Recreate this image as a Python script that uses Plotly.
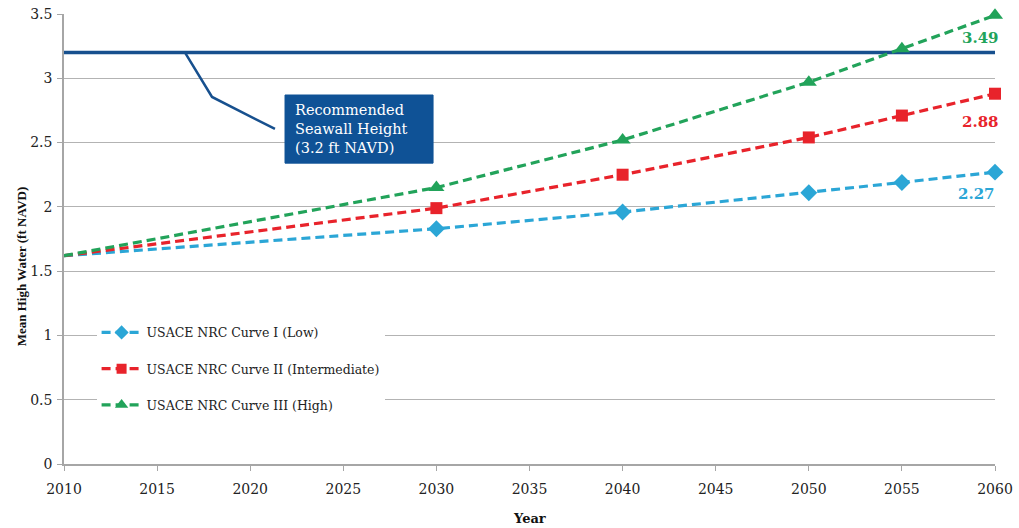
import plotly.graph_objects as go

# Projected mean high water (ft NAVD) under three USACE NRC sea-level curves
years = [2010, 2030, 2040, 2050, 2055, 2060]
curve_low = [1.62, 1.83, 1.96, 2.11, 2.19, 2.27]
curve_mid = [1.62, 1.99, 2.25, 2.54, 2.71, 2.88]
curve_high = [1.62, 2.15, 2.52, 2.97, 3.23, 3.49]

seawall_years = [2010, 2060]
seawall_height = 3.2

series_names = [
    "USACE NRC Curve I (Low)",
    "USACE NRC Curve II (Intermediate)",
    "USACE NRC Curve III (High)",
]

C_LOW = "#2ba6d6"
C_MID = "#e8232b"
C_HIGH = "#22a35a"
C_NAVY = "#17508e"
FONT = "DejaVu Serif"
TITLE_FONT = "Liberation Serif, serif"

fig = go.Figure()

# Recommended seawall height
fig.add_trace(go.Scatter(
    x=seawall_years, y=[seawall_height] * len(seawall_years),
    mode="lines", line=dict(color=C_NAVY, width=3.5),
    showlegend=False, hoverinfo="skip",
))

for name, vals, color, symbol, msize, grp in [
    (series_names[0], curve_low, C_LOW, "diamond", 13, "a"),
    (series_names[1], curve_mid, C_MID, "square", 12, "b"),
    (series_names[2], curve_high, C_HIGH, "triangle-up", 14, "c"),
]:
    # no marker on the shared 2010 starting point
    sizes = [0 if yr == years[0] else msize for yr in years]
    fig.add_trace(go.Scatter(
        x=years, y=vals, name=name, legendgroup=grp,
        mode="lines+markers",
        line=dict(color=color, width=3.2, dash="9px,5px"),
        marker=dict(symbol=symbol, size=sizes, color=color, opacity=1,
                    line=dict(width=0)),
        cliponaxis=False,
    ))

# End-of-period value labels
for vals, color, dx, dy in [
    (curve_high, C_HIGH, -15, -23),
    (curve_mid, C_MID, -15, -28),
    (curve_low, C_LOW, -19, -22),
]:
    fig.add_annotation(
        x=years[-1], y=vals[-1], text=f"<b>{vals[-1]:.2f}</b>",
        showarrow=False, xshift=dx, yshift=dy,
        font=dict(family=FONT, size=15, color=color),
    )

# Callout leader and box
fig.add_shape(
    type="path",
    path="M 2016.5 3.2 L 2017.95 2.855 L 2021.33 2.606",
    line=dict(color=C_NAVY, width=2.5),
)
fig.add_shape(
    type="rect", x0=2021.87, x1=2029.82, y0=2.34, y1=2.87,
    fillcolor="#0f5296", line=dict(color="#0f5296", width=1), layer="above",
)
fig.add_annotation(
    x=2022.3, y=2.605, xanchor="left", yanchor="middle", align="left",
    text="Recommended<br>Seawall Height<br>(3.2 ft NAVD)",
    showarrow=False,
    font=dict(family=FONT, size=14.5, color="white"),
)

# Axis titles
fig.add_annotation(
    x=-0.056, y=0.44, xref="paper", yref="paper", textangle=-90,
    text="<b>Mean High Water (ft NAVD)</b>", showarrow=False,
    font=dict(family=TITLE_FONT, size=13, color="#111"),
)
fig.add_annotation(
    x=0.5, y=-0.12, xref="paper", yref="paper", yanchor="middle",
    text="<b>Year</b>", showarrow=False,
    font=dict(family=FONT, size=13, color="#111"),
)

fig.update_layout(
    width=1019, height=528,
    margin=dict(l=64, r=24, t=14, b=64, autoexpand=False),
    paper_bgcolor="white", plot_bgcolor="white",
    font=dict(family=FONT, size=13, color="#222"),
    legend=dict(
        x=0.035, y=0.325, xanchor="left", yanchor="top",
        bgcolor="white", traceorder="grouped", tracegroupgap=17,
        font=dict(family=FONT, size=12.5, color="#222"),
        itemwidth=40,
    ),
    xaxis=dict(
        range=[2010, 2060], tickvals=list(range(2010, 2061, 5)),
        showgrid=False, showline=True, linecolor="#a6a6a6", linewidth=1.5,
        ticks="outside", ticklen=5, tickcolor="#a6a6a6",
        tickfont=dict(family=FONT, size=14, color="#222"),
        ticklabelstandoff=6, automargin=False, ticklabeloverflow="allow",
        zeroline=False, fixedrange=True,
    ),
    yaxis=dict(
        range=[0, 3.5], tickvals=[0, 0.5, 1, 1.5, 2, 2.5, 3, 3.5],
        ticktext=["0", "0.5", "1", "1.5", "2", "2.5", "3", "3.5"],
        showgrid=True, gridcolor="#b3b3b3", gridwidth=1,
        showline=True, linecolor="#a6a6a6", linewidth=1.5,
        ticks="outside", ticklen=5, tickcolor="#a6a6a6",
        tickfont=dict(family=FONT, size=14, color="#222"),
        ticklabelstandoff=2, automargin=False, ticklabeloverflow="allow",
        zeroline=False, fixedrange=True,
    ),
)

fig.write_html("out.html")
